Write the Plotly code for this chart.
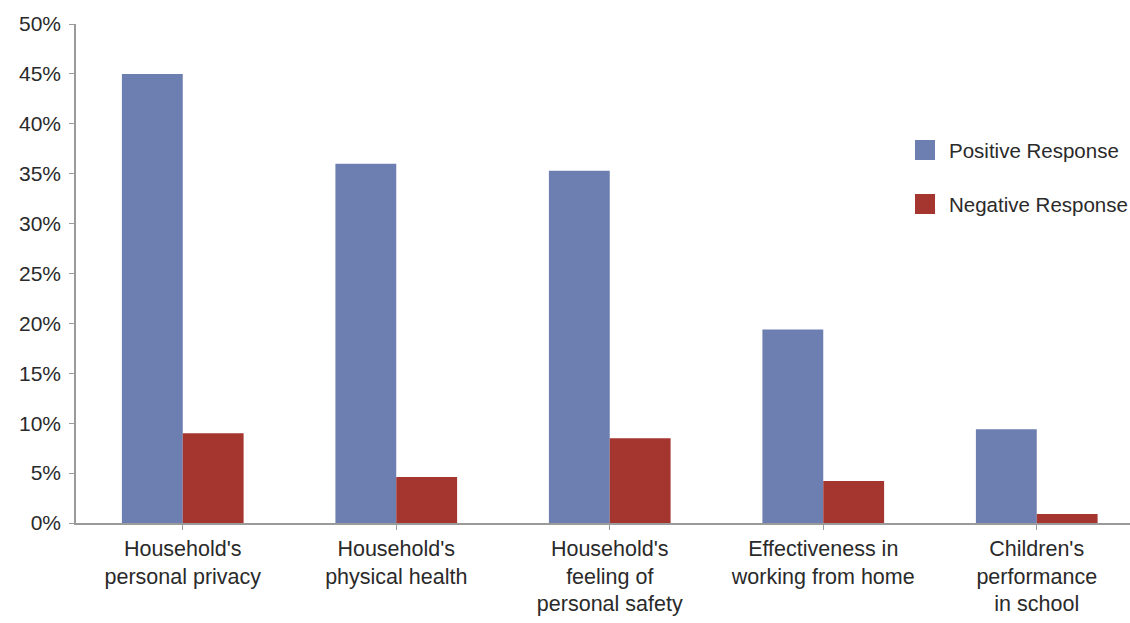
import plotly.graph_objects as go

# Survey categories and response shares (%)
categories = [
    "Household's<br>personal privacy",
    "Household's<br>physical health",
    "Household's<br>feeling of<br>personal safety",
    "Effectiveness in<br>working from home",
    "Children's<br>performance<br>in school",
]
positive = [45.0, 36.0, 35.3, 19.4, 9.4]
negative = [9.0, 4.6, 8.5, 4.2, 0.9]
series_names = ["Positive Response", "Negative Response"]
series_colors = ["#6d7fb1", "#a5352f"]
y_ticks = [0, 5, 10, 15, 20, 25, 30, 35, 40, 45, 50]

W, H = 1130, 623
ML, MT, MB, MR = 76, 24, 100, 0
FONT = "Liberation Sans, Arial, sans-serif"
TEXT = "#2a2a2a"
AXIS = "#9a9a9a"

fig = go.Figure()
for name, vals, col in zip(series_names, [positive, negative], series_colors):
    fig.add_trace(go.Bar(
        x=list(range(len(categories))), y=vals, name=name,
        marker=dict(color=col, line=dict(width=0)),
        showlegend=False, hoverinfo="y+name",
    ))

plot_w = W - ML - MR
plot_h = H - MT - MB
cat_px = 213.5  # pixel width of one category slot

def px_to_paper_x(px):
    return (px - ML) / plot_w

def px_to_paper_y(py):
    return (H - MB - py) / plot_h

# Hand-built legend with larger square swatches
shapes = []
annotations = []
for i, (name, col) in enumerate(zip(series_names, series_colors)):
    cy = 150 + i * 54
    shapes.append(dict(
        type="rect", xref="paper", yref="paper",
        x0=px_to_paper_x(915), x1=px_to_paper_x(935),
        y0=px_to_paper_y(cy + 10), y1=px_to_paper_y(cy - 10),
        fillcolor=col, line=dict(width=0),
    ))
    annotations.append(dict(
        text=name, xref="paper", yref="paper",
        x=px_to_paper_x(947), y=px_to_paper_y(cy),
        xanchor="left", yanchor="middle", showarrow=False,
        font=dict(family=FONT, size=20.5, color=TEXT),
    ))

fig.update_layout(
    width=W, height=H,
    margin=dict(l=ML, r=MR, t=MT, b=MB, pad=0),
    paper_bgcolor="white", plot_bgcolor="white",
    barmode="group", bargap=0.43, bargroupgap=0,
    shapes=shapes, annotations=annotations,
    showlegend=False,
    xaxis=dict(
        tickmode="array", tickvals=list(range(len(categories))),
        ticktext=categories,
        range=[-0.5, -0.5 + plot_w / cat_px],
        showline=True, linecolor=AXIS, linewidth=1.5,
        ticks="outside", tickson="boundaries", ticklen=5,
        tickcolor=AXIS, tickwidth=1,
        showgrid=False, zeroline=False,
        tickfont=dict(family=FONT, size=21.5, color=TEXT),
    ),
    yaxis=dict(
        range=[0, 50], tickvals=y_ticks,
        ticktext=[f"{v}%" for v in y_ticks],
        showline=True, linecolor=AXIS, linewidth=1.5,
        ticks="outside", ticklen=5, tickcolor=AXIS, tickwidth=1,
        ticklabelstandoff=4,
        showgrid=False, zeroline=False,
        tickfont=dict(family=FONT, size=21, color=TEXT),
    ),
)

fig.write_html("out.html")
